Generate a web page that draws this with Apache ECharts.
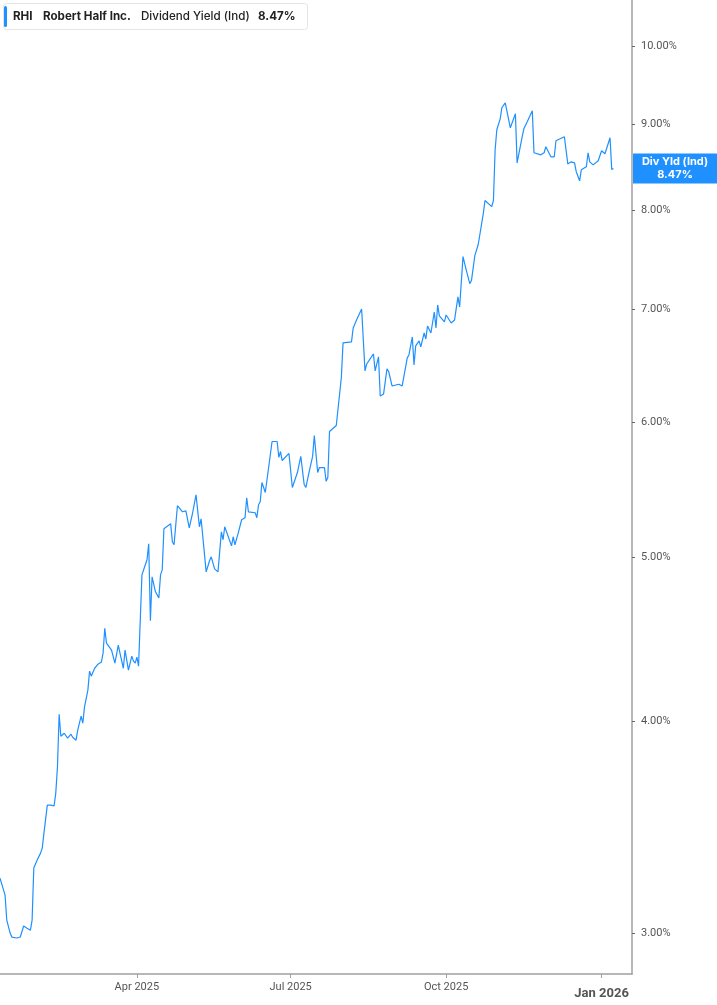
<!DOCTYPE html>
<html>
<head>
<meta charset="utf-8">
<script src="https://cdn.jsdelivr.net/npm/echarts@6/dist/echarts.min.js"></script>
<style>
html,body{margin:0;padding:0;background:#fff;}
#chart{width:717px;height:1005px;}
</style>
</head>
<body>
<div id="chart"></div>
<script>
const ticker = 'RHI';
const company = 'Robert Half Inc.';
const metric = 'Dividend Yield (Ind)';
const badgeTitle = 'Div Yld (Ind)';

const dates = [
'2025-01-10','2025-01-13','2025-01-14','2025-01-16','2025-01-17','2025-01-20','2025-01-21','2025-01-22','2025-01-24','2025-01-26',
'2025-01-28','2025-01-29','2025-01-30','2025-01-31','2025-02-01','2025-02-03','2025-02-04','2025-02-05','2025-02-07','2025-02-09',
'2025-02-11','2025-02-12','2025-02-13','2025-02-14','2025-02-15','2025-02-17','2025-02-18','2025-02-19','2025-02-21','2025-02-22',
'2025-02-24','2025-02-25','2025-02-26','2025-02-27','2025-02-28','2025-03-01','2025-03-03','2025-03-04','2025-03-05','2025-03-07',
'2025-03-09','2025-03-11','2025-03-12','2025-03-13','2025-03-14','2025-03-17','2025-03-19','2025-03-21','2025-03-22','2025-03-24',
'2025-03-25','2025-03-27','2025-03-29','2025-03-30','2025-03-31','2025-04-01','2025-04-02','2025-04-04','2025-04-06','2025-04-07',
'2025-04-08','2025-04-09','2025-04-10','2025-04-12','2025-04-14','2025-04-15','2025-04-16','2025-04-17','2025-04-21','2025-04-22',
'2025-04-23','2025-04-25','2025-04-28','2025-04-30','2025-05-01','2025-05-02','2025-05-04','2025-05-06','2025-05-07','2025-05-08',
'2025-05-09','2025-05-12','2025-05-14','2025-05-15','2025-05-17','2025-05-19','2025-05-21','2025-05-22','2025-05-23','2025-05-27',
'2025-05-28','2025-05-29','2025-05-31','2025-06-02','2025-06-04','2025-06-05','2025-06-06','2025-06-10','2025-06-11','2025-06-12',
'2025-06-13','2025-06-14','2025-06-16','2025-06-20','2025-06-23','2025-06-24','2025-06-25','2025-06-26','2025-06-30','2025-07-02',
'2025-07-03','2025-07-05','2025-07-07','2025-07-09','2025-07-10','2025-07-12','2025-07-14','2025-07-15','2025-07-17','2025-07-18',
'2025-07-21','2025-07-22','2025-07-23','2025-07-24','2025-07-28','2025-07-29','2025-07-31','2025-08-01','2025-08-06','2025-08-07',
'2025-08-09','2025-08-12','2025-08-14','2025-08-15','2025-08-16','2025-08-19','2025-08-20','2025-08-21','2025-08-22','2025-08-23',
'2025-08-25','2025-08-27','2025-08-28','2025-08-30','2025-09-03','2025-09-05','2025-09-08','2025-09-09','2025-09-11','2025-09-12',
'2025-09-13','2025-09-15','2025-09-16','2025-09-18','2025-09-19','2025-09-20','2025-09-22','2025-09-24','2025-09-25','2025-09-26',
'2025-09-27','2025-09-30','2025-10-01','2025-10-04','2025-10-06','2025-10-08','2025-10-09','2025-10-11','2025-10-13','2025-10-15',
'2025-10-16','2025-10-18','2025-10-20','2025-10-21','2025-10-23','2025-10-24','2025-10-28','2025-10-29','2025-10-30','2025-10-31',
'2025-11-02','2025-11-03','2025-11-05','2025-11-08','2025-11-11','2025-11-12','2025-11-13','2025-11-15','2025-11-16','2025-11-18',
'2025-11-19','2025-11-21','2025-11-22','2025-11-26','2025-11-28','2025-11-29','2025-12-02','2025-12-04','2025-12-05','2025-12-10',
'2025-12-12','2025-12-14','2025-12-16','2025-12-17','2025-12-19','2025-12-20','2025-12-23','2025-12-24','2025-12-25','2025-12-27',
'2025-12-30','2026-01-01','2026-01-03','2026-01-06','2026-01-07','2026-01-08'
];

const yields = [
3.232,3.159,3.053,3.000,2.984,2.980,2.972,2.984,3.029,3.020,
3.012,3.053,3.277,3.272,3.313,3.344,3.367,3.436,3.569,3.569,
3.565,3.628,3.758,4.038,3.919,3.935,3.941,3.909,3.930,3.914,
3.898,3.952,3.962,4.027,3.989,4.077,4.172,4.281,4.252,4.298,
4.322,4.334,4.387,4.538,4.447,4.405,4.328,4.435,4.387,4.298,
4.405,4.287,4.369,4.340,4.328,4.363,4.310,4.879,4.946,4.980,
5.089,4.584,4.866,4.768,4.729,4.879,4.912,5.194,5.229,5.103,
5.082,5.359,5.315,5.322,5.308,5.201,5.308,5.439,5.439,5.208,
5.265,4.899,4.973,5.000,4.919,4.899,5.172,5.117,5.208,5.075,
5.138,5.082,5.165,5.258,5.272,5.417,5.315,5.308,5.272,5.366,
5.388,5.531,5.456,5.847,5.847,5.722,5.768,5.698,5.753,5.493,
5.500,5.606,5.730,5.516,5.493,5.614,5.730,5.895,5.606,5.644,
5.644,5.539,5.568,5.927,5.976,6.107,6.378,6.685,6.694,6.821,
6.896,7.000,6.435,6.496,6.487,6.585,6.435,6.426,6.559,6.220,
6.237,6.453,6.430,6.305,6.320,6.305,6.550,6.576,6.739,6.488,
6.658,6.703,6.649,6.775,6.720,6.840,6.775,6.971,6.821,7.038,
6.934,6.878,6.943,6.868,6.896,7.115,7.019,7.515,7.374,7.245,
7.275,7.526,7.640,7.620,7.967,8.110,8.043,8.110,8.688,8.927,
9.061,9.198,9.260,8.951,9.123,8.535,8.547,8.843,8.939,9.024,
9.000,9.160,8.653,8.629,8.653,8.724,8.606,8.606,8.795,8.843,
8.523,8.547,8.535,8.433,8.330,8.455,8.490,8.653,8.547,8.512,
8.559,8.676,8.641,8.831,8.460,8.470
];

const yTickValues = [3, 4, 5, 6, 7, 8, 9, 10];
const xTickDates = ['2025-04-01', '2025-07-01', '2025-10-01', '2026-01-01'];
const xRange = ['2025-01-10', '2026-01-19'];
const yRange = [2.838, 10.647];

const monthNames = ['Jan','Feb','Mar','Apr','May','Jun','Jul','Aug','Sep','Oct','Nov','Dec'];
const toTs = s => echarts.number.parseDate(s).getTime();

const chart = echarts.init(document.getElementById('chart'), null, {renderer: 'canvas'});
const lastVal = yields[yields.length - 1];
const blue = '#1E90FF';
const axisGray = '#a0a0a0';
const labelGray = '#555';

const option = {
  animation: false,
  backgroundColor: '#fff',
  grid: {left: 0, right: 85, top: 0, bottom: 31, containLabel: false},
  xAxis: {
    type: 'value',
    scale: true,
    min: toTs(xRange[0]),
    max: toTs(xRange[1]),
    axisLine: {show: true, lineStyle: {color: axisGray, width: 1.5}},
    axisTick: {show: true, length: 4, customValues: xTickDates.map(toTs), lineStyle: {color: axisGray, width: 1}},
    splitLine: {show: false},
    axisLabel: {
      customValues: xTickDates.map(toTs),
      margin: 8,
      color: labelGray,
      fontSize: 11,
      fontFamily: 'Roboto',
      formatter: function (v) {
        const d = new Date(v);
        const m = d.getMonth();
        const txt = monthNames[m] + ' ' + d.getFullYear();
        return m === 0 ? '{b|' + txt + '}' : txt;
      },
      rich: {
        b: {fontSize: 13, fontWeight: 'bold', color: labelGray, fontFamily: 'Roboto', padding: [5, 0, 0, 0]}
      }
    }
  },
  yAxis: {
    type: 'log',
    logBase: 10,
    position: 'right',
    min: yRange[0],
    max: yRange[1],
    axisLine: {show: true, lineStyle: {color: axisGray, width: 1.5}},
    axisTick: {show: true, length: 3, customValues: yTickValues, lineStyle: {color: '#666', width: 1}},
    splitLine: {show: false},
    axisLabel: {
      customValues: yTickValues,
      margin: 9,
      color: labelGray,
      fontSize: 11,
      fontFamily: 'Roboto',
      formatter: v => Number(v).toFixed(2) + '%'
    }
  },
  series: [{
    type: 'line',
    data: dates.map((d, i) => [toTs(d), yields[i]]),
    showSymbol: false,
    symbol: 'none',
    lineStyle: {color: blue, width: 1.2},
    itemStyle: {color: blue}
  }]
};
chart.setOption(option);

const py = chart.convertToPixel({yAxisIndex: 0}, lastVal);
const textStyleBase = {fontFamily: 'Inter', fontSize: 11.6, fill: '#222', verticalAlign: 'middle'};
chart.setOption({
  graphic: [
    {type: 'rect', shape: {x: 3.5, y: 3.5, width: 304, height: 26, r: 3}, style: {fill: '#fff', stroke: '#e4e4e4', lineWidth: 1}, z: 10},
    {type: 'rect', shape: {x: 4, y: 6, width: 3, height: 21, r: 1.5}, style: {fill: blue}, z: 11},
    {type: 'text', x: 13, y: 17, style: Object.assign({}, textStyleBase, {text: ticker, fontWeight: 'bold'}), z: 11},
    {type: 'text', x: 43, y: 17, style: Object.assign({}, textStyleBase, {text: company, fontWeight: 'bold'}), z: 11},
    {type: 'text', x: 141, y: 17, style: Object.assign({}, textStyleBase, {text: metric, fontWeight: 500}), z: 11},
    {type: 'text', x: 258, y: 17, style: Object.assign({}, textStyleBase, {text: lastVal.toFixed(2) + '%', fontWeight: 'bold'}), z: 11},
    {type: 'rect', shape: {x: 633, y: py - 15, width: 84, height: 30}, style: {fill: blue}, z: 10},
    {type: 'text', x: 675, y: py - 6.5, style: {text: badgeTitle, fill: '#fff', fontFamily: 'Inter', fontSize: 11, fontWeight: 'bold', align: 'center', verticalAlign: 'middle'}, z: 11},
    {type: 'text', x: 675, y: py + 6.5, style: {text: lastVal.toFixed(2) + '%', fill: '#fff', fontFamily: 'Inter', fontSize: 11, fontWeight: 'bold', align: 'center', verticalAlign: 'middle'}, z: 11}
  ]
});
</script>
</body>
</html>
